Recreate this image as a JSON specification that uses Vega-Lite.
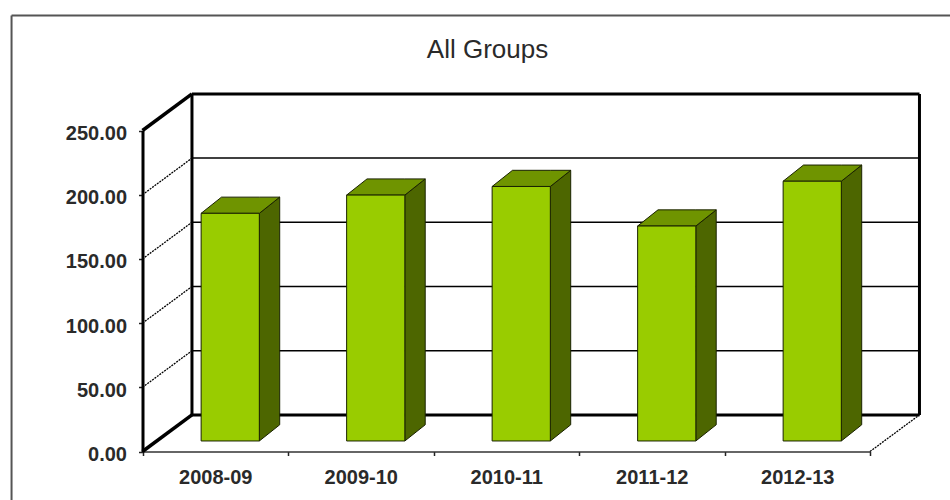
{
 "$schema":"https://vega.github.io/schema/vega-lite/v6.json",
 "width":950,"height":500,"padding":0,"autosize":{"type":"none"},
 "background":"white",
 "config":{"font":"Liberation Sans","view":{"stroke":null}},
 "title":{"text":"All Groups","anchor":"middle","dx":12.5,"offset":-62.5,"fontSize":26,"fontWeight":"normal","font":"Liberation Sans","color":"#2a2a2a"},
 "datasets":{
  "bars":[{"period":"2008-09","value":177.3},{"period":"2009-10","value":191.5},{"period":"2010-11","value":198.2},{"period":"2011-12","value":167.4},{"period":"2012-13","value":202.3}],
  "grid":[{"level":0},{"level":50},{"level":100},{"level":150},{"level":200},{"level":250}]
 },
 "resolve":{"scale":{"x":"independent"},"axis":{"x":"independent"}},
 "layer":[
  {"data":{"name":"bars"},
   "mark":{"type":"tick","opacity":0},
   "encoding":{"x":{"field":"period","type":"nominal","sort":null,
     "scale":{"type":"band","range":[142.5,870],"paddingInner":0,"paddingOuter":0},
     "axis":{"title":null,"orient":"bottom","offset":-48.5,"tickBand":"extent","tickSize":4,"tickColor":"#222222","tickWidth":1.5,"domainColor":"#333333","domainWidth":1.5,"labelAngle":0,"labelFont":"Liberation Sans","labelFontWeight":"bold","labelFontSize":20,"labelColor":"#2a2a2a","labelPadding":12}}}},
  {"layer":[
   {"mark":{"type":"rule","color":"#555555","strokeWidth":2},
    "data":{"values":[{"edge":"top"}]},
    "encoding":{"x":{"datum":-0.9,"type":"quantitative","scale":{"domain":[0,5],"range":[142.5,870],"nice":false},"axis":null},"x2":{"datum":5.55},
     "y":{"datum":339.6,"type":"quantitative",
      "scale":{"domain":[0,250],"range":[451.5,130.5],"nice":false},
      "axis":{"title":null,"orient":"left","offset":-142.5,"values":[0,50,100,150,200,250],"format":".2f","grid":false,"domainColor":"#000000","domainWidth":3,"tickColor":"#222222","tickWidth":1.5,"tickSize":4,"labelFont":"Liberation Sans","labelFontWeight":"bold","labelFontSize":20,"labelColor":"#2a2a2a","labelPadding":12,"labelOffset":3}}}},
   {"mark":{"type":"rule","color":"#555555","strokeWidth":2},
    "data":{"values":[{"edge":"left"}]},
    "encoding":{"x":{"datum":-0.9,"type":"quantitative"},"y":{"datum":339.6,"type":"quantitative"},"y2":{"datum":-37.8}}},
   {"data":{"name":"grid"},"transform":[{"filter":"datum.level>0 && datum.level<250"},{"calculate":"datum.level+28.5","as":"back"},{"calculate":"0.34","as":"x0"},{"calculate":"5.34","as":"x1"}],
    "mark":{"type":"rule","color":"#000000","strokeWidth":1.5},
    "encoding":{"x":{"field":"x0","type":"quantitative"},"x2":{"field":"x1"},"y":{"field":"back","type":"quantitative"}}},
   {"data":{"name":"grid"},"transform":[{"filter":"datum.level>0 && datum.level<250"},{"calculate":"datum.level+28.5","as":"back"},{"calculate":"0","as":"x0"},{"calculate":"0.34","as":"x1"}],
    "mark":{"type":"rule","color":"#000000","strokeWidth":1.3,"strokeDash":[2,1]},
    "encoding":{"x":{"field":"x0","type":"quantitative"},"x2":{"field":"x1"},"y":{"field":"level","type":"quantitative"},"y2":{"field":"back"}}},
   {"data":{"name":"grid"},"transform":[{"filter":"datum.level==0 || datum.level==250"},{"calculate":"datum.level+28.5","as":"back"},{"calculate":"0","as":"x0"},{"calculate":"0.34","as":"x1"}],
    "mark":{"type":"rule","color":"#000000","strokeWidth":3.5},
    "encoding":{"x":{"field":"x0","type":"quantitative"},"x2":{"field":"x1"},"y":{"field":"level","type":"quantitative"},"y2":{"field":"back"}}},
   {"data":{"name":"grid"},"transform":[{"filter":"datum.level==0"},{"calculate":"datum.level+28.5","as":"back"},{"calculate":"5","as":"x0"},{"calculate":"5.34","as":"x1"}],
    "mark":{"type":"rule","color":"#000000","strokeWidth":1.3,"strokeDash":[2,1]},
    "encoding":{"x":{"field":"x0","type":"quantitative"},"x2":{"field":"x1"},"y":{"field":"level","type":"quantitative"},"y2":{"field":"back"}}},
   {"data":{"name":"grid"},"transform":[{"filter":"datum.level==0 || datum.level==250"},{"calculate":"datum.level+28.5","as":"back"},{"calculate":"0.34","as":"x0"},{"calculate":"5.34","as":"x1"}],
    "mark":{"type":"rule","color":"#000000","strokeWidth":3},
    "encoding":{"x":{"field":"x0","type":"quantitative"},"x2":{"field":"x1"},"y":{"field":"back","type":"quantitative"}}},
   {"data":{"values":[{"wall":0.34},{"wall":5.34}]},"transform":[{"calculate":"28.5","as":"lo"},{"calculate":"278.5","as":"hi"}],
    "mark":{"type":"rule","color":"#000000","strokeWidth":3},
    "encoding":{"x":{"field":"wall","type":"quantitative"},"y":{"field":"lo","type":"quantitative"},"y2":{"field":"hi"}}},
   {"data":{"name":"bars"},
    "transform":[{"window":[{"op":"row_number","as":"n"}]},
     {"calculate":"datum.n-0.5+0.103-0.2","as":"L"},{"calculate":"datum.L+0.4","as":"R"},
     {"calculate":"8.2+datum.value","as":"T"},
     {"calculate":"[0,1]","as":"stop"},{"flatten":["stop"]},
     {"calculate":"datum.R+datum.stop*0.14","as":"xs"},
     {"calculate":"datum.T+datum.stop*12.6","as":"ya"},
     {"calculate":"8.2+datum.stop*12.6","as":"yb"}],
    "mark":{"type":"area","orient":"vertical","fill":"#4d6600","fillOpacity":1,"stroke":"#1a2200","strokeWidth":1},
    "encoding":{"x":{"field":"xs","type":"quantitative"},"y":{"field":"ya","type":"quantitative"},"y2":{"field":"yb"},"detail":{"field":"period"}}},
   {"data":{"name":"bars"},
    "transform":[{"window":[{"op":"row_number","as":"n"}]},
     {"calculate":"datum.n-0.5+0.103-0.2","as":"L"},
     {"calculate":"8.2+datum.value","as":"T"},
     {"calculate":"[0,1,2,3]","as":"stop"},{"flatten":["stop"]},
     {"calculate":"datum.L+[0,0.14,0.4,0.54][datum.stop]","as":"xs"},
     {"calculate":"datum.T+[0,12.6,12.6,12.6][datum.stop]","as":"ya"},
     {"calculate":"datum.T+[0,0,0,12.6][datum.stop]","as":"yb"}],
    "mark":{"type":"area","orient":"vertical","fill":"#6f9400","fillOpacity":1,"stroke":"#1a2200","strokeWidth":1},
    "encoding":{"x":{"field":"xs","type":"quantitative"},"y":{"field":"ya","type":"quantitative"},"y2":{"field":"yb"},"detail":{"field":"period"}}},
   {"data":{"name":"bars"},
    "transform":[{"window":[{"op":"row_number","as":"n"}]},
     {"calculate":"datum.n-0.5+0.103-0.2","as":"L"},{"calculate":"datum.L+0.4","as":"R"},
     {"calculate":"8.2+datum.value","as":"T"},{"calculate":"8.2","as":"B"}],
    "mark":{"type":"rect","fill":"#99cc00","stroke":"#1a2200","strokeWidth":1},
    "encoding":{"x":{"field":"L","type":"quantitative"},"x2":{"field":"R"},"y":{"field":"T","type":"quantitative"},"y2":{"field":"B"}}}
  ]}
 ]
}
